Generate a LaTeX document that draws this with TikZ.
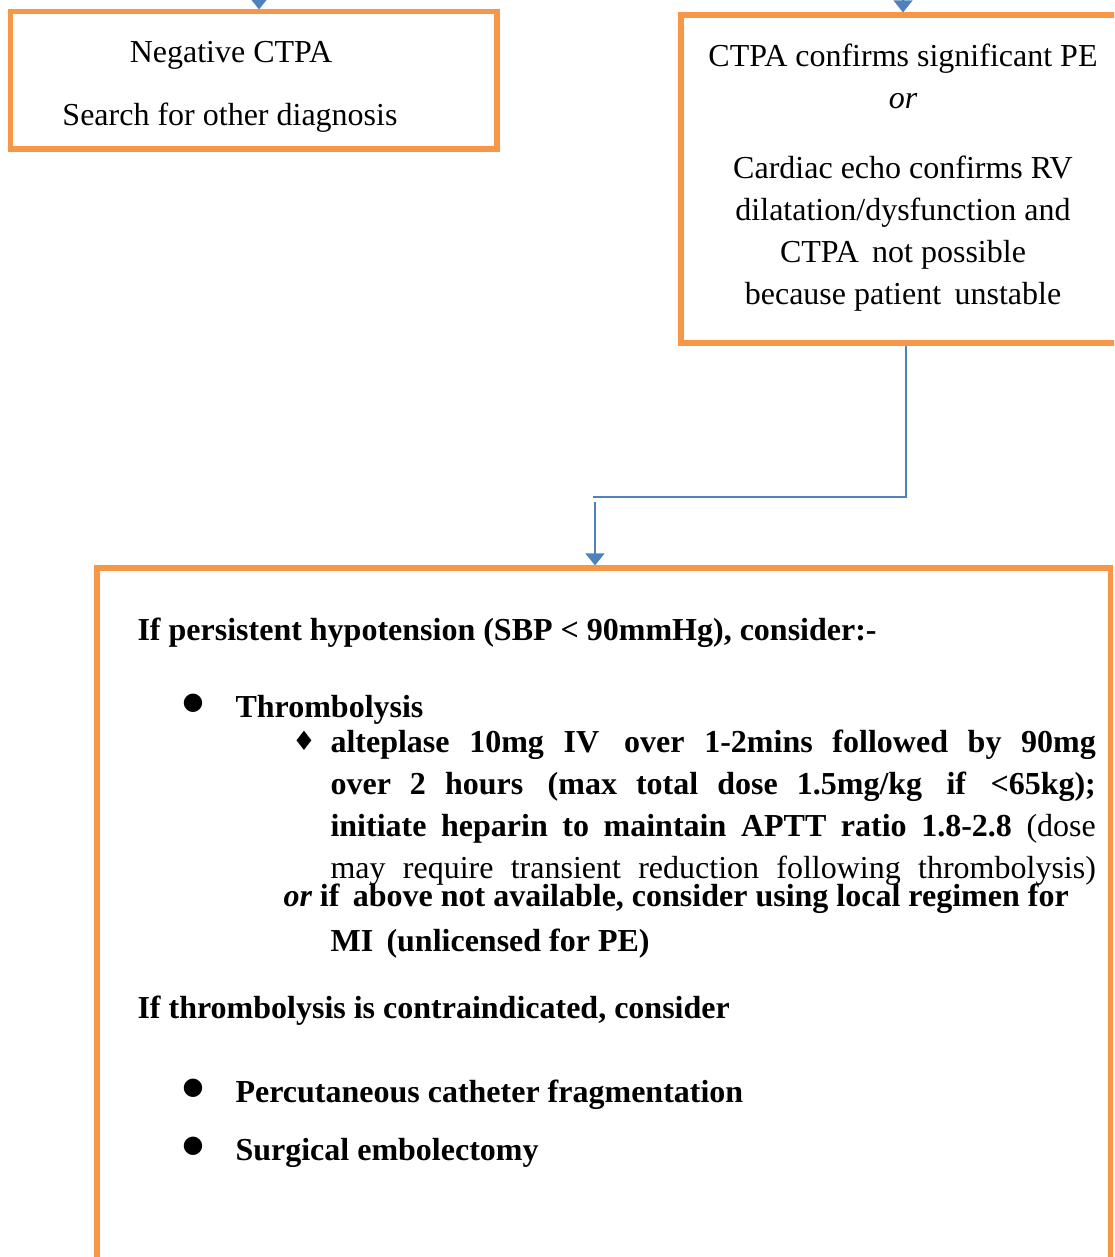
\documentclass[tikz,border=0pt]{standalone}
\usepackage{fontspec}
\setmainfont{Liberation Serif}
\newfontfamily\symfont{DejaVu Sans}
\usetikzlibrary{arrows.meta}

\definecolor{boxorange}{HTML}{F79646}
\definecolor{linkblue}{HTML}{4F81BD}

\newcommand{\bul}{{\symfont\fontsize{9}{9}\selectfont ●}}
\newcommand{\dia}{{\symfont\fontsize{10}{10}\selectfont ♦}}

\tikzset{
  box/.style={draw=boxorange, line width=1.9pt, inner sep=0pt},
  link/.style={draw=linkblue, line width=0.8pt},
  flow/.style={link, arrows={-Triangle[width=7pt, length=4.5pt]}},
  txt/.style={inner sep=0pt, font=\fontsize{12}{14}\selectfont},
  bld/.style={txt, anchor=base west, font=\fontsize{12}{14}\selectfont\bfseries}
}

\begin{document}
\begin{tikzpicture}[x=0.375pt, y=-0.375pt]
    \useasboundingbox (0, 0) rectangle (1114, 1257);
    \clip (0, 0) rectangle (1114, 1257);
    % boxes
    \node[box, minimum width=182.6pt, minimum height=51.4pt] (neg) at (253.5, 80.5) {};
    \node[box, minimum width=166.5pt, minimum height=123pt] (conf) at (903, 179) {};
    \node[box, minimum width=379.9pt, minimum height=270.75pt] (act) at (603.5, 929) {};
    % incoming arrows
    \coordinate (in1) at (259, -30);
    \coordinate (in2) at (903, -30);
    \draw[flow] (in1) -- (in1 |- neg.north);
    \draw[flow] (in2) -- (in2 |- conf.north);
    % joining connector
    \coordinate (j1) at (906, 497);
    \coordinate (j2) at (593, 497);
    \draw[link] (conf.south -| j1) -- (j1) -- (j2);
    \draw[flow] (j2) ++(2, 5) coordinate (j3) -- (j3 |- act.north);
    % left box text
    \node[txt, anchor=base] (neg1) at (231, 63) {Negative CTPA};
    \node[txt, anchor=base] (neg2) at (230, 126) {Search for other diagnosis};
    % right box text
    \node[txt, anchor=base] (conf1) at (903, 67) {CTPA confirms significant PE};
    \node[txt, anchor=base] (conf2) at (903, 109) {\itshape or};
    \node[txt, anchor=base] (conf3) at (903, 179) {Cardiac echo confirms RV};
    \node[txt, anchor=base] (conf4) at (903, 221) {dilatation/dysfunction and};
    \node[txt, anchor=base] (conf5) at (903, 263) {CTPA\, not possible};
    \node[txt, anchor=base] (conf6) at (903, 305) {because patient\, unstable};
    % bottom box text
    \node[bld] (hypo) at (137, 640) {If persistent hypotension (SBP < 90mmHg), consider:-};
    \node[txt, anchor=base] (b1) at (193, 709) {\bul};
    \node[bld] (thr) at (235, 717) {Thrombolysis};
    \node[txt, anchor=base] (d1) at (304, 750) {\dia};
    \node[bld] (alt1) at (330, 752) {\makebox[287pt][s]{alteplase 10mg IV\, over 1-2mins followed by 90mg}};
    \node[bld] (alt2) at (330, 794) {\makebox[287pt][s]{over 2 hours\, (max total dose 1.5mg/kg\, if\, <65kg);}};
    \node[bld] (alt3) at (330, 836) {\makebox[287pt][s]{initiate heparin to maintain APTT ratio 1.8-2.8 \mdseries(dose}};
    \node[txt, anchor=base west] (alt4) at (330, 878) {\makebox[287pt][s]{may require transient reduction following thrombolysis)}};
    \node[bld] (orl) at (283, 906) {\itshape or\upshape\ if\, above not available, consider using local regimen for};
    \node[bld] (mi) at (330, 951) {MI\, (unlicensed for PE)};
    \node[bld] (contra) at (137, 1018) {If thrombolysis is contraindicated, consider};
    \node[txt, anchor=base] (b2) at (193, 1094) {\bul};
    \node[bld] (perc) at (235, 1102) {Percutaneous catheter fragmentation};
    \node[txt, anchor=base] (b3) at (193, 1152) {\bul};
    \node[bld] (surg) at (235, 1160) {Surgical embolectomy};
\end{tikzpicture}
\end{document}
